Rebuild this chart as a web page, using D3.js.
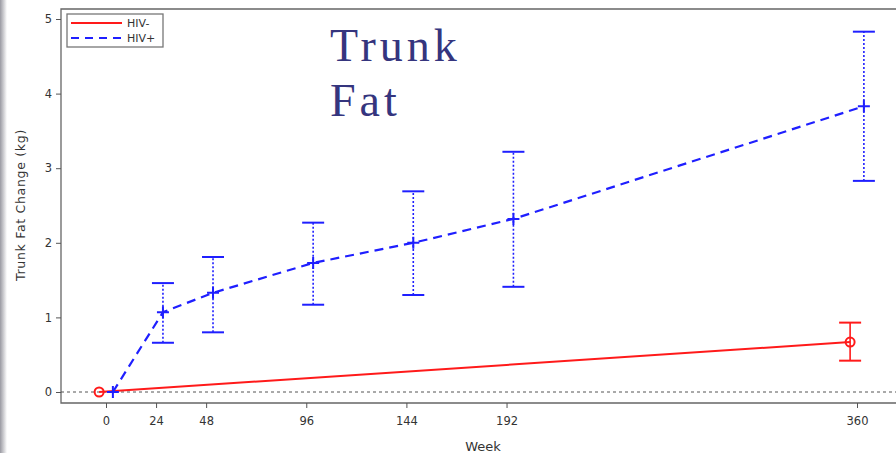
<!DOCTYPE html>
<html>
<head>
<meta charset="utf-8">
<script src="https://cdn.jsdelivr.net/npm/d3@7"></script>
<style>
  body { margin: 0; background: #fff; }
  svg { display: block; }
</style>
</head>
<body>
<div id="chart"></div>
<script>
// Data
const weeks = [0, 24, 48, 96, 144, 192, 360];
const posMean = [0, 1.07, 1.33, 1.73, 2.0, 2.32, 3.83];
const posLow = [null, 0.66, 0.80, 1.17, 1.30, 1.41, 2.83];
const posHigh = [null, 1.46, 1.81, 2.27, 2.69, 3.22, 4.83];

const negWeeks = [0, 360];
const negMean = [0, 0.67];
const negLow = [null, 0.42];
const negHigh = [null, 0.93];

const yTicks = [0, 1, 2, 3, 4, 5];
const seriesNames = ['HIV-', 'HIV+'];

function draw() {
  const width = 896, height = 453;
  const offset = 3.3; // weeks, so the two groups don't overlap

  const svg = d3.select('#chart')
    .append('svg')
    .attr('width', width)
    .attr('height', height);

  // grey shade on the left edge of the slide
  const grad = svg.append('defs').append('linearGradient')
    .attr('id', 'edge');
  grad.append('stop').attr('offset', '0%').attr('stop-color', '#9a9aa2');
  grad.append('stop').attr('offset', '100%').attr('stop-color', '#fff');
  svg.append('rect').attr('width', 7).attr('height', height).attr('fill', 'url(#edge)');

  // Scales
  const x = d3.scaleLinear().domain([0, 360]).range([106, 857]);
  const y = d3.scaleLinear().domain([0, 5]).range([392, 19]);

  const left = 61, top = 9, bottom = 403;

  // frame
  svg.append('path')
    .attr('d', `M${width + 5},${top}H${left}V${bottom}H${width + 5}`)
    .attr('fill', 'none')
    .attr('stroke', '#666')
    .attr('stroke-width', 1.3);

  // zero reference
  svg.append('line')
    .attr('x1', left).attr('x2', width)
    .attr('y1', y(0)).attr('y2', y(0))
    .attr('stroke', '#555')
    .attr('stroke-dasharray', '3,3');

  // Axes
  const xAxis = svg.append('g')
    .attr('transform', `translate(0,${bottom})`)
    .call(d3.axisBottom(x).tickValues(weeks).tickSize(5).tickPadding(9));
  const yAxis = svg.append('g')
    .attr('transform', `translate(${left},0)`)
    .call(d3.axisLeft(y).tickValues(yTicks).tickFormat(d3.format('d')).tickSize(5).tickPadding(4));

  [xAxis, yAxis].forEach(a => {
    a.select('.domain').remove();
    a.selectAll('line').attr('stroke', '#555');
    a.selectAll('text')
      .attr('fill', '#333')
      .style('font-family', 'DejaVu Sans, sans-serif')
      .style('font-size', '11.5px');
  });

  svg.append('text')
    .attr('x', 483).attr('y', 451)
    .attr('text-anchor', 'middle')
    .attr('fill', '#333')
    .style('font-family', 'DejaVu Sans, sans-serif')
    .style('font-size', '13px')
    .text('Week');

  svg.append('text')
    .attr('transform', `translate(25,205) rotate(-90)`)
    .attr('text-anchor', 'middle')
    .attr('fill', '#333')
    .style('font-family', 'DejaVu Sans, sans-serif')
    .style('font-size', '12.5px')
    .style('letter-spacing', '0.7px')
    .text('Trunk Fat Change (kg)');

  // series with a small sideways shift
  const neg = negWeeks.map((w, i) => ({ w: w - offset, m: negMean[i], lo: negLow[i], hi: negHigh[i] }));
  const pos = weeks.map((w, i) => ({ w: w + offset, m: posMean[i], lo: posLow[i], hi: posHigh[i] }));

  const line = d3.line().x(d => x(d.w)).y(d => y(d.m));

  const red = '#ff1a1a', blue = '#1f1fff';

  function errorBars(data, color, dash) {
    const g = svg.append('g');
    const withBars = data.filter(d => d.lo !== null);
    g.selectAll('.bar')
      .data(withBars)
      .join('line')
      .attr('x1', d => x(d.w)).attr('x2', d => x(d.w))
      .attr('y1', d => y(d.lo)).attr('y2', d => y(d.hi))
      .attr('stroke', color)
      .attr('stroke-width', 1.6)
      .attr('stroke-dasharray', dash);
    ['lo', 'hi'].forEach(k => {
      g.selectAll('.cap-' + k)
        .data(withBars)
        .join('line')
        .attr('x1', d => x(d.w) - 11).attr('x2', d => x(d.w) + 11)
        .attr('y1', d => y(d[k])).attr('y2', d => y(d[k]))
        .attr('stroke', color)
        .attr('stroke-width', 2);
    });
  }

  errorBars(neg, red, null);
  errorBars(pos, blue, '2,2');

  svg.append('path')
    .datum(neg)
    .attr('d', line)
    .attr('fill', 'none')
    .attr('stroke', red)
    .attr('stroke-width', 2);

  svg.append('path')
    .datum(pos)
    .attr('d', line)
    .attr('fill', 'none')
    .attr('stroke', blue)
    .attr('stroke-width', 2.2)
    .attr('stroke-dasharray', '9,6');

  svg.selectAll('.neg-pt')
    .data(neg)
    .join('circle')
    .attr('cx', d => x(d.w)).attr('cy', d => y(d.m))
    .attr('r', 4.5)
    .attr('fill', 'none')
    .attr('stroke', red)
    .attr('stroke-width', 2);

  svg.selectAll('.pos-pt')
    .data(pos)
    .join('path')
    .attr('d', d => `M${x(d.w) - 6},${y(d.m)}h12M${x(d.w)},${y(d.m) - 6}v12`)
    .attr('stroke', blue)
    .attr('stroke-width', 2);

  // Legend
  const lg = svg.append('g').attr('transform', 'translate(67,14)');
  lg.append('rect')
    .attr('width', 96).attr('height', 33)
    .attr('fill', '#fff')
    .attr('stroke', '#777')
    .attr('stroke-width', 1.3);
  const legendItems = [
    { name: seriesNames[0], color: red, dash: null },
    { name: seriesNames[1], color: blue, dash: '8,6' }
  ];
  legendItems.forEach((item, i) => {
    const yy = 9 + i * 15;
    lg.append('line')
      .attr('x1', 4).attr('x2', 55)
      .attr('y1', yy).attr('y2', yy)
      .attr('stroke', item.color)
      .attr('stroke-width', 2)
      .attr('stroke-dasharray', item.dash);
    lg.append('text')
      .attr('x', 60).attr('y', yy + 4)
      .attr('fill', '#333')
      .style('font-family', 'DejaVu Sans, sans-serif')
      .style('font-size', '11px')
      .text(item.name);
  });

  // Slide title
  const title = svg.append('text')
    .attr('fill', '#35357e')
    .style('font-family', 'Liberation Serif, serif')
    .style('font-size', '46px')
    .style('letter-spacing', '4px');
  title.append('tspan').attr('x', 330).attr('y', 61).text('Trunk');
  title.append('tspan').attr('x', 330).attr('y', 116).text('Fat');
}

draw();
</script>
</body>
</html>
